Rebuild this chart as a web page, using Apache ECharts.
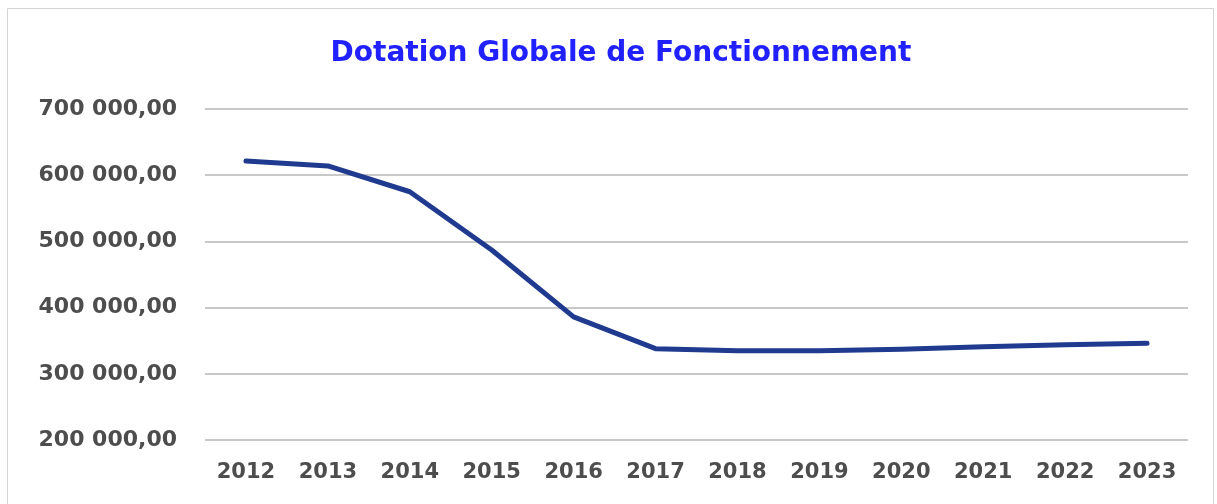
<!DOCTYPE html>
<html>
<head>
<meta charset="utf-8">
<script src="https://cdn.jsdelivr.net/npm/echarts@6/dist/echarts.min.js"></script>
<style>
  html, body { margin: 0; padding: 0; background: #fff; }
  #chart { width: 1217px; height: 504px; }
</style>
</head>
<body>
<div id="chart"></div>
<script>
const years = ["2012", "2013", "2014", "2015", "2016", "2017", "2018", "2019", "2020", "2021", "2022", "2023"];
const dgfValues = [621500, 614000, 575000, 487000, 386000, 338000, 335000, 335000, 337000, 341000, 344000, 346000];
const yTicks = [200000, 300000, 400000, 500000, 600000, 700000];

function frNumber(v) {
  // "700 000,00"
  let s = Math.round(v).toString().replace(/\B(?=(\d{3})+(?!\d))/g, " ");
  return s + ",00";
}

let chart = echarts.init(document.getElementById("chart"));
let option = {
  animation: false,
  title: {
    text: "Dotation Globale de Fonctionnement",
    left: 616,
    textAlign: "center",
    top: 35,
    textStyle: {
      color: "#2121ff",
      fontFamily: "DejaVu Sans",
      fontWeight: "bold",
      fontSize: 28,
    },
  },
  graphic: [
    {
      type: "rect",
      shape: { x: 7.5, y: 8.5, width: 1206, height: 500 },
      style: { fill: "none", stroke: "#d4d4d4", lineWidth: 1 },
      silent: true,
    },
  ],
  grid: {
    left: 205,
    right: 29,
    top: 109,
    bottom: 64,
  },
  xAxis: {
    type: "category",
    data: years,
    boundaryGap: true,
    axisLine: { show: false },
    axisTick: { show: false },
    axisLabel: {
      margin: 22,
      color: "#4d4d4d",
      fontFamily: "DejaVu Sans",
      fontWeight: "bold",
      fontSize: 21,
    },
  },
  yAxis: {
    type: "value",
    min: yTicks[0],
    max: yTicks[yTicks.length - 1],
    interval: 100000,
    axisLine: { show: false },
    axisTick: { show: false },
    splitLine: { lineStyle: { color: "#c8c8c8", width: 2 } },
    axisLabel: {
      margin: 28,
      color: "#4d4d4d",
      fontFamily: "DejaVu Sans",
      fontWeight: "bold",
      fontSize: 22,
      formatter: (v) => frNumber(v),
    },
  },
  series: [
    {
      name: "DGF",
      type: "line",
      data: dgfValues,
      symbol: "none",
      lineStyle: { color: "#1f3a8f", width: 5, cap: "round", join: "round" },
    },
  ],
};
chart.setOption(option);
</script>
</body>
</html>
